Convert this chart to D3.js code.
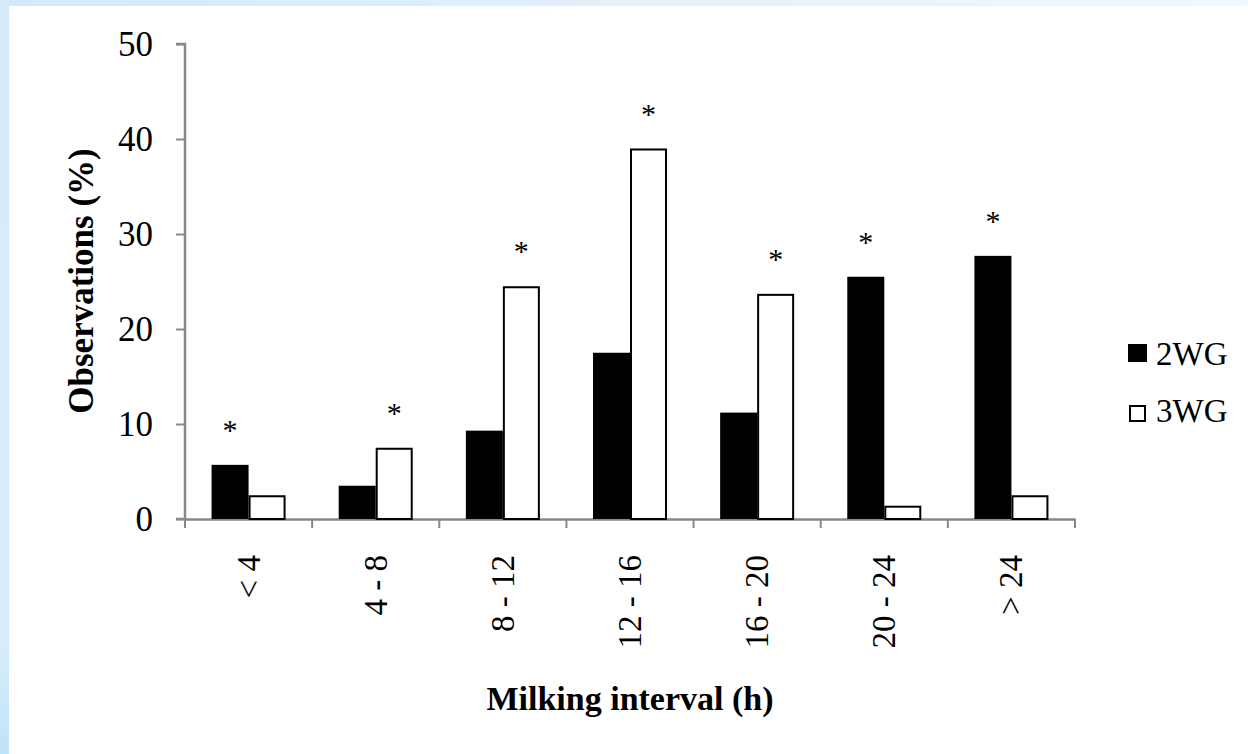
<!DOCTYPE html>
<html><head><meta charset="utf-8">
<script src="https://cdn.jsdelivr.net/npm/d3@7"></script>
<style>
html,body{margin:0;padding:0;background:#fff;}
svg{display:block;}
</style></head>
<body>
<svg id="chart" width="1248" height="754"></svg>
<script>
const categories = ["< 4", "4 - 8", "8 - 12", "12 - 16", "16 - 20", "20 - 24", "> 24"];
const seriesNames = ["2WG", "3WG"];
const values2WG = [5.7, 3.5, 9.3, 17.5, 11.2, 25.5, 27.7];
const values3WG = [2.5, 7.5, 24.5, 39.0, 23.7, 1.4, 2.5];
const significant = [true, true, true, true, true, true, true];
const yTicks = [0, 10, 20, 30, 40, 50];

const svg = d3.select("#chart");
const font = "'Liberation Serif','Times New Roman',serif";

// background frame
const defs = svg.append("defs");
const gTop = defs.append("linearGradient").attr("id","gtop").attr("x1",0).attr("x2",1).attr("y1",0).attr("y2",0);
gTop.append("stop").attr("offset",0).attr("stop-color","#d3e9f9");
gTop.append("stop").attr("offset",1).attr("stop-color","#f1f8fe");
const gLeft = defs.append("linearGradient").attr("id","gleft").attr("x1",0).attr("x2",0).attr("y1",0).attr("y2",1);
gLeft.append("stop").attr("offset",0).attr("stop-color","#d6ebf9");
gLeft.append("stop").attr("offset",0.85).attr("stop-color","#d9edfb");
gLeft.append("stop").attr("offset",1).attr("stop-color","#bfe3f8");
svg.append("rect").attr("x",0).attr("y",0).attr("width",1248).attr("height",6).attr("fill","url(#gtop)");
svg.append("rect").attr("x",0).attr("y",0).attr("width",9).attr("height",754).attr("fill","url(#gleft)");

const x0 = 185, x1 = 1075, yBase = 519, yTop = 44;
const x = d3.scaleBand().domain(categories).range([x0, x1]).paddingInner(0).paddingOuter(0);
const y = d3.scaleLinear().domain([0, 50]).range([yBase, yTop]);
const bw = 37;

const axisColor = "#888888";

// y axis
const yAxis = svg.append("g").attr("transform", `translate(${x0},0)`)
  .call(d3.axisLeft(y).tickValues(yTicks).tickSize(9).tickPadding(23));
yAxis.select(".domain").attr("stroke", axisColor).attr("stroke-width", 2.5).attr("d", `M-9,${yTop}H0V${yBase}H-9`);
yAxis.selectAll(".tick line").attr("stroke", axisColor).attr("stroke-width", 2);
yAxis.selectAll(".tick text").attr("font-family", font).attr("font-size", 35).attr("fill", "#000").attr("dy", "0.34em");

// x axis
const xAxis = svg.append("g").attr("transform", `translate(0,${yBase})`)
  .call(d3.axisBottom(x).tickSize(0).tickFormat(""));
xAxis.select(".domain").attr("stroke", axisColor).attr("stroke-width", 2.5);
const boundaries = d3.range(categories.length + 1).map(i => x0 + i * x.bandwidth());
xAxis.selectAll(".bnd").data(boundaries).enter().append("line")
  .attr("x1", d => d).attr("x2", d => d).attr("y1", 0).attr("y2", 9)
  .attr("stroke", axisColor).attr("stroke-width", 2);

// x labels rotated
svg.append("g").selectAll("text").data(categories).enter().append("text")
  .attr("transform", d => `translate(${x(d) + x.bandwidth()/2 + 11},${yBase + 36}) rotate(-90)`)
  .attr("text-anchor", "end")
  .attr("font-family", font).attr("font-size", 33).attr("fill", "#000")
  .text(d => d);

// bars
const bars = svg.append("g");
bars.selectAll(".b2").data(categories).enter().append("rect")
  .attr("x", d => x(d) + x.bandwidth()/2 - bw)
  .attr("y", (d,i) => y(values2WG[i]))
  .attr("width", bw)
  .attr("height", (d,i) => y(0) - y(values2WG[i]))
  .attr("fill", "#000");
bars.selectAll(".b3").data(categories).enter().append("rect")
  .attr("x", d => x(d) + x.bandwidth()/2 + 1)
  .attr("y", (d,i) => y(values3WG[i]) + 1)
  .attr("width", bw - 2)
  .attr("height", (d,i) => y(0) - y(values3WG[i]) - 1)
  .attr("fill", "#fff").attr("stroke", "#000").attr("stroke-width", 2);

// asterisks
svg.append("g").selectAll("text").data(categories).enter().append("text")
  .filter((d,i) => significant[i])
  .attr("x", (d,i) => x(d) + x.bandwidth()/2 + (values2WG[i] >= values3WG[i] ? -bw/2 : bw/2))
  .attr("y", (d,i) => y(Math.max(values2WG[i], values3WG[i])) - 25)
  .attr("text-anchor", "middle")
  .attr("font-family", font).attr("font-size", 30).attr("fill", "#000")
  .text("*");

// axis titles
svg.append("text")
  .attr("transform", `translate(93,281) rotate(-90)`)
  .attr("text-anchor", "middle")
  .attr("font-family", font).attr("font-size", 35).attr("font-weight", "bold")
  .text("Observations (%)");
svg.append("text")
  .attr("x", 630).attr("y", 710)
  .attr("text-anchor", "middle")
  .attr("font-family", font).attr("font-size", 34).attr("font-weight", "bold")
  .text("Milking interval (h)");

// legend
const legend = svg.append("g");
const legBase = [365, 422];
seriesNames.forEach((name, i) => {
  if (i === 0) {
    legend.append("rect").attr("x", 1128).attr("y", 344).attr("width", 19).attr("height", 18).attr("fill", "#000");
  } else {
    legend.append("rect").attr("x", 1130).attr("y", 406).attr("width", 15).attr("height", 15)
      .attr("fill", "#fff").attr("stroke", "#000").attr("stroke-width", 2);
  }
  legend.append("text")
    .attr("x", 1156).attr("y", legBase[i])
    .attr("font-family", font).attr("font-size", 33).attr("fill", "#000")
    .text(name);
});
</script>
</body></html>
